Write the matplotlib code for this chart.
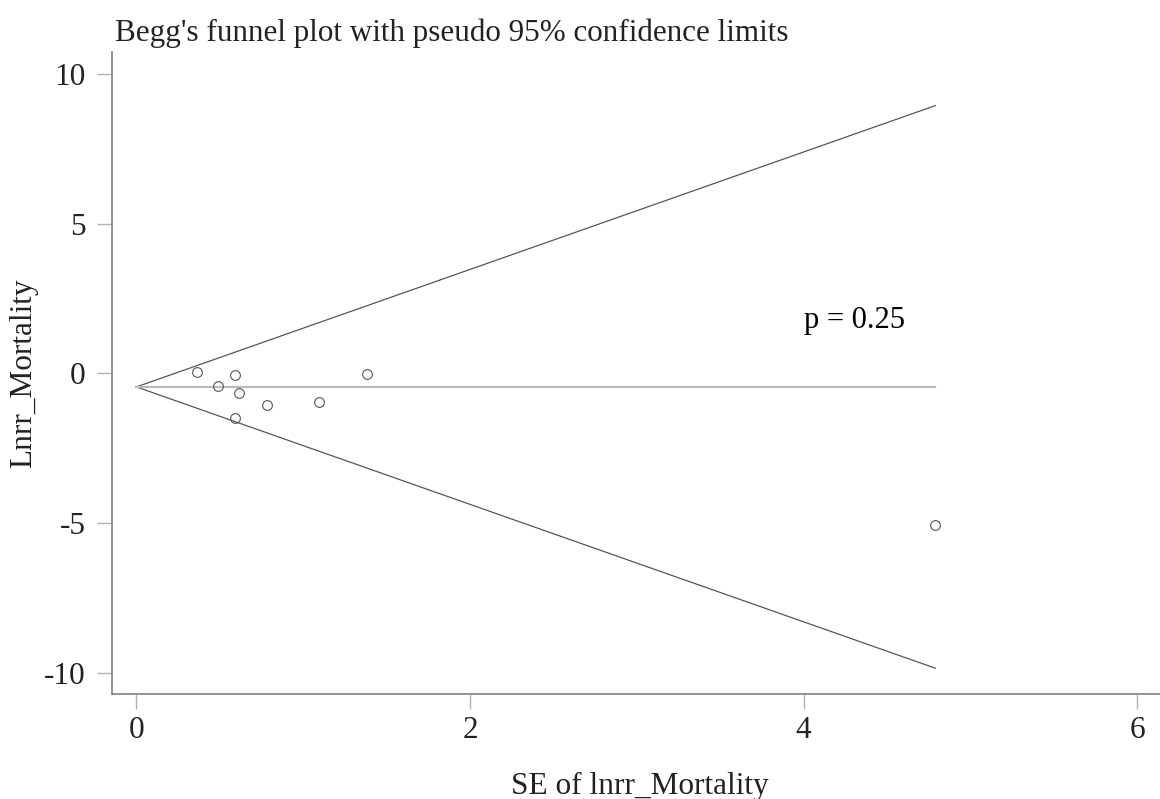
import numpy as np
import matplotlib
matplotlib.use('Agg')
import matplotlib.pyplot as plt

plt.rcParams['font.family'] = ['Liberation Serif', 'DejaVu Serif']

# study estimates (SE, log relative risk)
se = [0.365, 0.49, 0.593, 0.591, 0.613, 0.783, 1.092, 1.383, 4.79]
lnrr = [0.06, -0.42, -0.05, -1.49, -0.66, -1.07, -0.94, -0.03, -5.05]

pooled = -0.45
p_value = 0.25

x_ticks = [0, 2, 4, 6]
y_ticks = [-10, -5, 0, 5, 10]

fig = plt.figure(figsize=(11.6, 7.99), dpi=100)
ax = fig.add_axes([0.0966, 0.1314, 0.91, 0.8036])

# pseudo 95% limits
se_line = np.array([0, max(se)])
ax.plot(se_line, pooled + 1.96 * se_line, color='#555555', lw=0.9)
ax.plot(se_line, pooled - 1.96 * se_line, color='#555555', lw=0.9)
ax.plot(se_line, [pooled, pooled], color='#bbbbbb', lw=1.6)

ax.plot(se, lnrr, 'o', mfc='none', mec='#555555', mew=0.8, ms=7)

ax.text(4.0, 1.75, 'p = ' + str(p_value), fontsize=22, va='center', ha='left')

ax.set_xlim(-0.146, 6.183)
ax.set_ylim(-10.7, 10.73)
ax.set_xticks(x_ticks)
ax.set_yticks(y_ticks)
ax.set_yticklabels([str(t) for t in y_ticks])

for s in ['top', 'right']:
    ax.spines[s].set_visible(False)
for s in ['left', 'bottom']:
    ax.spines[s].set_color('#808080')
    ax.spines[s].set_linewidth(1.2)

ax.tick_params(axis='both', direction='out', length=11, width=1.0,
               color='#b0b0b0', labelsize=22.5, labelcolor='#222222')
ax.tick_params(axis='x', pad=5)
ax.tick_params(axis='y', pad=8)

ax.set_xlabel('SE of lnrr_Mortality', fontsize=22.5, labelpad=19, color='#222222')
ax.set_ylabel('Lnrr_Mortality', fontsize=22.5, labelpad=4, color='#222222')
fig.text(0.099, 0.977, "Begg's funnel plot with pseudo 95% confidence limits",
         fontsize=22.4, va='top', ha='left', color='#222222')

fig.savefig('out.png', dpi=100, facecolor='white')
